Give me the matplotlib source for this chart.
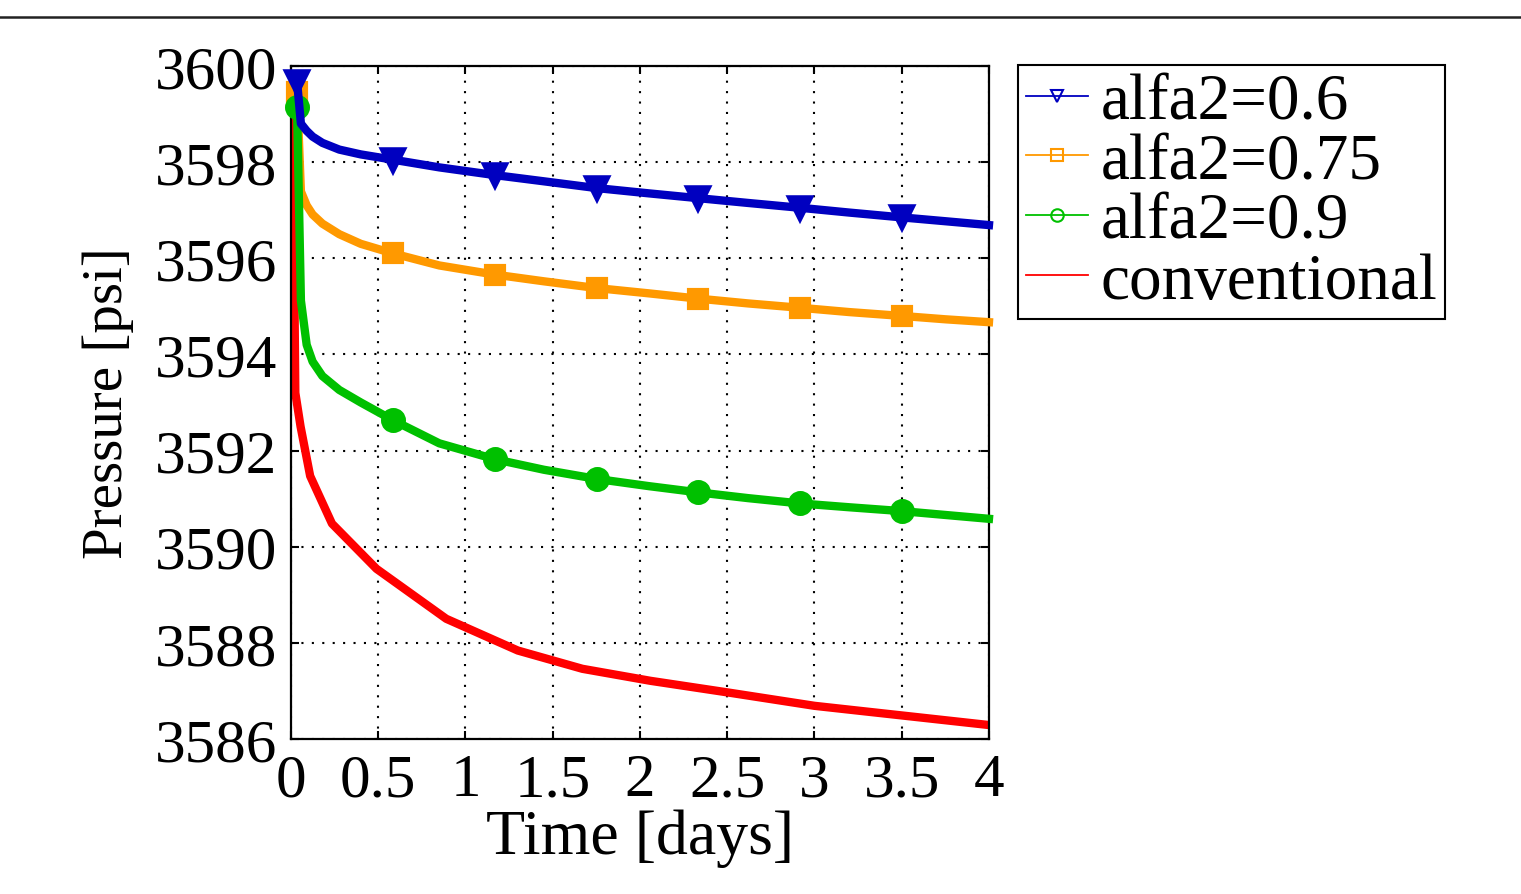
import matplotlib.pyplot as plt
from matplotlib.lines import Line2D

# time grid (days) for the three alfa2 runs
t_alfa = [0.035, 0.057, 0.09, 0.124, 0.18, 0.277, 0.4, 0.585, 0.85, 1.168,
          1.45, 1.751, 2.05, 2.334, 2.62, 2.917, 3.2, 3.5, 3.75, 4.0]
p_06 = [3599.67, 3598.80, 3598.65, 3598.53, 3598.40, 3598.26, 3598.16, 3598.05,
        3597.89, 3597.73, 3597.60, 3597.46, 3597.35, 3597.25, 3597.15, 3597.05,
        3596.95, 3596.85, 3596.77, 3596.69]
p_075 = [3599.46, 3597.39, 3597.10, 3596.91, 3596.72, 3596.50, 3596.30, 3596.10,
         3595.85, 3595.66, 3595.52, 3595.38, 3595.27, 3595.16, 3595.06, 3594.97,
         3594.88, 3594.80, 3594.73, 3594.67]
p_09 = [3599.15, 3595.12, 3594.20, 3593.85, 3593.55, 3593.26, 3593.00, 3592.63,
        3592.15, 3591.82, 3591.60, 3591.41, 3591.26, 3591.13, 3591.01, 3590.90,
        3590.82, 3590.74, 3590.66, 3590.58]
mark_idx = [0, 7, 9, 11, 13, 15, 17]

# conventional model
t_conv = [0.01, 0.025, 0.055, 0.11, 0.235, 0.49, 0.89, 1.3, 1.67, 2.06,
          2.5, 3.0, 3.5, 4.0]
p_conv = [3599.12, 3593.2, 3592.5, 3591.47, 3590.48, 3589.54, 3588.5, 3587.84,
          3587.46, 3587.21, 3586.97, 3586.69, 3586.49, 3586.29]

labels = ['alfa2=0.6', 'alfa2=0.75', 'alfa2=0.9', 'conventional']
xticks = [0, 0.5, 1, 1.5, 2, 2.5, 3, 3.5, 4]
xticklabels = ['0', '0.5', '1', '1.5', '2', '2.5', '3', '3.5', '4']
yticks = [3586, 3588, 3590, 3592, 3594, 3596, 3598, 3600]

plt.rcParams['font.family'] = ['Liberation Serif', 'DejaVu Serif']

fig = plt.figure(figsize=(15.21, 8.95), dpi=100)
ax = fig.add_axes([0.1913, 0.1732, 0.4589, 0.7520])

blue = '#0000c0'
orange = '#ff9900'
green = '#00c000'
red = '#ff0000'

ax.plot(t_alfa, p_06, color=blue, lw=6, marker='v', markevery=mark_idx,
        ms=14, mew=4, mfc=blue, mec=blue, clip_on=False, zorder=4)
ax.plot(t_alfa, p_075, color=orange, lw=6, marker='s', markevery=mark_idx,
        ms=13, mew=3, mfc=orange, mec=orange, clip_on=False, zorder=3)
ax.plot(t_alfa, p_09, color=green, lw=6, marker='o', markevery=mark_idx,
        ms=14, mew=4, mfc=green, mec=green, clip_on=False, zorder=3)
ax.plot(t_conv, p_conv, color=red, lw=6, zorder=2)

ax.set_xlim(0, 4)
ax.set_ylim(3586, 3600)
ax.set_xticks(xticks)
ax.set_xticklabels(xticklabels)
ax.set_yticks(yticks)
ax.grid(True, color='black', linestyle=(0, (1, 4)), linewidth=1.5)
ax.tick_params(direction='in', length=6, width=1.5, top=True, right=True,
               labelsize=44, pad=10)
for s in ax.spines.values():
    s.set_linewidth(1.6)

ax.set_xlabel('Time [days]', fontsize=46, labelpad=0)
ax.set_ylabel('Pressure [psi]', fontsize=41, labelpad=0)
ax.yaxis.set_label_coords(-0.225, 0.5)

# legend uses thin lines with hollow markers
handles = [
    Line2D([], [], color=blue, lw=1.3, marker='v', ms=9, mfc='none', mec=blue, mew=1.5),
    Line2D([], [], color=orange, lw=1.3, marker='s', ms=9, mfc='none', mec=orange, mew=1.5),
    Line2D([], [], color=green, lw=1.3, marker='o', ms=9, mfc='none', mec=green, mew=1.5),
    Line2D([], [], color=red, lw=1.3),
]
leg = fig.legend(handles, labels, loc='upper left',
                 bbox_to_anchor=(1018 / 1521, 1 - 66 / 895),
                 fontsize=47, frameon=True, fancybox=False, framealpha=1,
                 edgecolor='black', borderpad=0.12, labelspacing=0.0,
                 handlelength=0.95, handletextpad=0.2, borderaxespad=0)
leg.get_frame().set_linewidth(1.5)

# thin rule across the top of the figure
fig.add_artist(Line2D([0, 1], [1 - 18 / 895, 1 - 18 / 895],
                      color='#222222', lw=1.8, transform=fig.transFigure))

fig.savefig('out.png', dpi=100)
